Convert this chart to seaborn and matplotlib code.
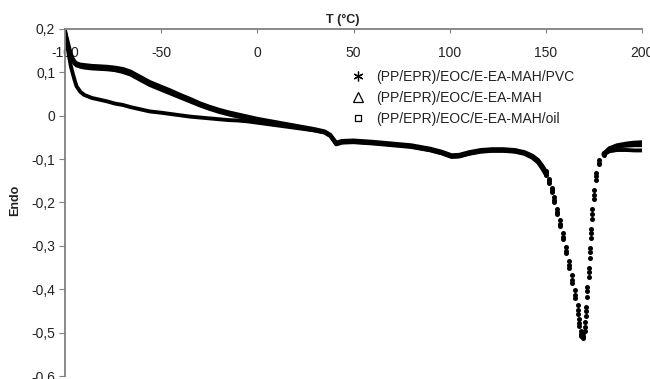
import pandas as pd
import seaborn as sns
import matplotlib.pyplot as plt
from matplotlib.lines import Line2D

sns.set_style("white")
plt.rcParams["font.family"] = ["Liberation Sans", "DejaVu Sans"]
plt.rcParams["axes.unicode_minus"] = False

# -----------------------------
# Data
# -----------------------------
temp = [
    -100, -99, -98, -97, -96, -95, -94, -92, -90, -86,
    -82, -78, -74, -70, -66, -61, -56, -50, -45, -40,
    -35, -30, -25, -20, -15, -10, -5, 0, 5, 10,
    15, 20, 25, 30, 35, 38, 41, 44, 50, 60,
    70, 80, 90, 96, 101, 105, 110, 116, 122, 128,
    134, 139, 143, 146, 148, 150, 151.5, 153, 154.5, 156,
    157.5, 159, 160.5, 162, 163.5, 165, 166.5, 167.5, 168.5, 169.2,
    170.3, 171, 171.6, 172.2, 172.8, 173.4, 174.1, 175, 176.2, 177.8,
    180, 183, 187, 192, 196, 200,
]
endo_pvc = [
    0.195, 0.178, 0.160, 0.143, 0.132, 0.125, 0.121, 0.118, 0.117, 0.115,
    0.114, 0.113, 0.111, 0.108, 0.102, 0.090, 0.078, 0.067, 0.058, 0.048,
    0.039, 0.029, 0.021, 0.014, 0.008, 0.003, -0.002, -0.007, -0.011, -0.015,
    -0.019, -0.023, -0.027, -0.031, -0.036, -0.044, -0.062, -0.058, -0.057, -0.060,
    -0.064, -0.068, -0.076, -0.083, -0.091, -0.090, -0.084, -0.079, -0.077, -0.077,
    -0.079, -0.084, -0.092, -0.102, -0.114, -0.128, -0.146, -0.166, -0.188, -0.214,
    -0.241, -0.271, -0.302, -0.334, -0.367, -0.402, -0.437, -0.468, -0.497, -0.512,
    -0.497, -0.462, -0.418, -0.372, -0.327, -0.282, -0.237, -0.192, -0.147, -0.112,
    -0.089, -0.075, -0.068, -0.064, -0.062, -0.061,
]
endo_mah = [
    0.190, 0.172, 0.155, 0.138, 0.127, 0.120, 0.116, 0.113, 0.111, 0.109,
    0.108, 0.107, 0.105, 0.101, 0.095, 0.083, 0.071, 0.060, 0.051, 0.042,
    0.033, 0.024, 0.016, 0.009, 0.003, -0.002, -0.006, -0.010, -0.014, -0.018,
    -0.022, -0.026, -0.030, -0.034, -0.039, -0.047, -0.065, -0.061, -0.060, -0.063,
    -0.066, -0.071, -0.079, -0.086, -0.094, -0.093, -0.087, -0.082, -0.080, -0.080,
    -0.082, -0.087, -0.095, -0.106, -0.119, -0.133, -0.151, -0.172, -0.195, -0.221,
    -0.249, -0.279, -0.311, -0.344, -0.378, -0.414, -0.448, -0.478, -0.503, -0.508,
    -0.488, -0.450, -0.405, -0.360, -0.315, -0.270, -0.226, -0.183, -0.140, -0.108,
    -0.087, -0.076, -0.071, -0.069, -0.068, -0.068,
]
endo_oil = [
    0.198, 0.165, 0.140, 0.115, 0.098, 0.082, 0.068, 0.055, 0.048, 0.041,
    0.037, 0.033, 0.028, 0.025, 0.020, 0.015, 0.010, 0.007, 0.004, 0.001,
    -0.002, -0.004, -0.006, -0.008, -0.010, -0.011, -0.013, -0.016, -0.019, -0.022,
    -0.025, -0.028, -0.031, -0.034, -0.038, -0.046, -0.066, -0.062, -0.061, -0.064,
    -0.068, -0.072, -0.080, -0.087, -0.095, -0.094, -0.088, -0.083, -0.081, -0.081,
    -0.083, -0.088, -0.097, -0.108, -0.121, -0.136, -0.155, -0.176, -0.199, -0.226,
    -0.254, -0.285, -0.317, -0.351, -0.386, -0.421, -0.456, -0.485, -0.508, -0.500,
    -0.475, -0.440, -0.395, -0.350, -0.305, -0.260, -0.215, -0.172, -0.132, -0.103,
    -0.090, -0.082, -0.079, -0.079, -0.080, -0.080,
]
samples = ["(PP/EPR)/EOC/E-EA-MAH/PVC", "(PP/EPR)/EOC/E-EA-MAH", "(PP/EPR)/EOC/E-EA-MAH/oil"]

x_ticks = [-100, -50, 0, 50, 100, 150, 200]
y_ticks = [0.2, 0.1, 0.0, -0.1, -0.2, -0.3, -0.4, -0.5, -0.6]
y_tick_labels = ["0,2", "0,1", "0", "-0,1", "-0,2", "-0,3", "-0,4", "-0,5", "-0,6"]

df = pd.DataFrame({
    "T": temp * 3,
    "endo": endo_pvc + endo_mah + endo_oil,
    "sample": [s for s in samples for _ in temp],
})
# the steep melting peak shows as separate dots, the rest as a solid trace
peak = (df["T"] >= 150) & (df["T"] <= 180)
df["segment"] = df["sample"] + (df["T"] > 150).map({True: "_b", False: "_a"})

fig = plt.figure(figsize=(6.5, 3.79), dpi=100)
ax = fig.add_axes([0.1, 0.0079, 0.8877, 0.9156])

sns.lineplot(
    data=df[~peak | (df["T"] == 150) | (df["T"] == 180)],
    x="T", y="endo", units="segment", estimator=None,
    color="black", linewidth=2.8, sort=False, legend=False, ax=ax,
)
sns.scatterplot(
    data=df[peak], x="T", y="endo", color="black",
    marker="o", s=13, linewidth=0, legend=False, ax=ax,
)

ax.set_xlim(-100, 200)
ax.set_ylim(-0.6, 0.2)
ax.set_xticks(x_ticks)
ax.set_yticks(y_ticks)
ax.set_yticklabels(y_tick_labels)
ax.set_xlabel("")
ax.set_ylabel("")

for side in ["right", "bottom"]:
    ax.spines[side].set_visible(False)
for side in ["top", "left"]:
    ax.spines[side].set_color("#808080")
    ax.spines[side].set_linewidth(1.3)

ax.tick_params(axis="x", top=True, labeltop=True, bottom=False, labelbottom=False,
               direction="in", length=3, pad=-22, color="#808080",
               labelcolor="#222222", labelsize=10)
ax.tick_params(axis="y", left=True, direction="out", length=4, pad=3,
               color="#808080", labelcolor="#222222", labelsize=10)

fig.text(343 / 650, 1 - 20 / 379, "T (\u00b0C)", ha="center", va="center",
         fontsize=9, fontweight="bold", color="#222222")
fig.text(15 / 650, 1 - 200 / 379, "Endo", ha="center", va="center", rotation=90,
         fontsize=9, fontweight="bold", color="#222222")

handles = [
    Line2D([], [], ls="none", marker=(6, 2, 0), color="black", ms=7, mew=0.9),
    Line2D([], [], ls="none", marker="^", mfc="none", mec="black", ms=7, mew=0.9),
    Line2D([], [], ls="none", marker="s", mfc="none", mec="black", ms=5, mew=0.9),
]
leg = ax.legend(handles, samples, loc="upper left",
                bbox_to_anchor=(351 / 650, 1 - 70 / 379), bbox_transform=fig.transFigure,
                frameon=False, fontsize=10, handlelength=1.0, handletextpad=0.8,
                labelspacing=0.5, borderpad=0, borderaxespad=0)
for t in leg.get_texts():
    t.set_color("#222222")

fig.savefig("out.png", dpi=100)
plt.close(fig)
